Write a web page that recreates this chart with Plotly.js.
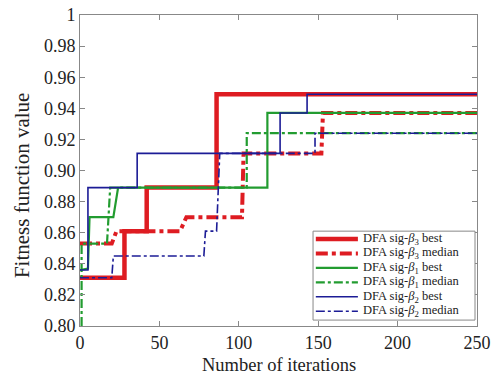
<!DOCTYPE html>
<html>
<head>
<meta charset="utf-8">
<script src="https://cdn.plot.ly/plotly-3.0.1.min.js"></script>
<style>html,body{margin:0;padding:0;background:#fff;}#chart{width:495px;height:374px;}</style>
</head>
<body>
<div id="chart"></div>
<script>
// Iteration / fitness points (step curves)
const redBestX = [0, 28, 28, 42, 42, 86, 86, 250];
const redBestY = [0.831, 0.831, 0.861, 0.861, 0.889, 0.889, 0.949, 0.949];
const redMedX = [0, 20, 23, 63, 67, 102, 103, 152, 153, 250];
const redMedY = [0.853, 0.853, 0.861, 0.861, 0.870, 0.870, 0.911, 0.911, 0.937, 0.937];
const greenBestX = [0, 5, 6, 21, 24, 118, 118, 250];
const greenBestY = [0.836, 0.837, 0.870, 0.870, 0.889, 0.889, 0.937, 0.937];
const greenMedX = [1, 1, 17, 19, 105, 105, 250];
const greenMedY = [0.800, 0.853, 0.853, 0.889, 0.889, 0.924, 0.924];
const blueBestX = [0, 5, 5, 36, 36, 126, 126, 143, 143, 250];
const blueBestY = [0.836, 0.836, 0.889, 0.889, 0.911, 0.911, 0.937, 0.937, 0.949, 0.949];
const blueMedX = [0, 20, 21, 78, 79, 86, 88, 148, 148, 250];
const blueMedY = [0.831, 0.831, 0.845, 0.845, 0.861, 0.861, 0.911, 0.911, 0.924, 0.924];

const seriesNames = [
  'DFA sig-<i>β</i><sub>3</sub> best',
  'DFA sig-<i>β</i><sub>3</sub> median',
  'DFA sig-<i>β</i><sub>1</sub> best',
  'DFA sig-<i>β</i><sub>1</sub> median',
  'DFA sig-<i>β</i><sub>2</sub> best',
  'DFA sig-<i>β</i><sub>2</sub> median'
];
const xTicks = [0, 50, 100, 150, 200, 250];
const yTicks = [0.80, 0.82, 0.84, 0.86, 0.88, 0.90, 0.92, 0.94, 0.96, 0.98, 1.00];
const yTickText = ['0.80', '0.82', '0.84', '0.86', '0.88', '0.90', '0.92', '0.94', '0.96', '0.98', '1'];
const xTitle = 'Number of iterations';
const yTitle = 'Fitness function value';

const RED = 'rgb(222,28,34)', GREEN = 'rgb(34,156,48)', BLUE = 'rgb(28,28,150)';
const xs = [redBestX, redMedX, greenBestX, greenMedX, blueBestX, blueMedX];
const ys = [redBestY, redMedY, greenBestY, greenMedY, blueBestY, blueMedY];
const styles = [
  {color: RED, width: 4.5, dash: 'solid'},
  {color: RED, width: 4, dash: 'dashdot'},
  {color: GREEN, width: 2.2, dash: 'solid'},
  {color: GREEN, width: 2.2, dash: 'dashdot'},
  {color: BLUE, width: 1.6, dash: 'solid'},
  {color: BLUE, width: 1.6, dash: 'dashdot'}
];
const traces = xs.map((x, i) => ({
  x: x, y: ys[i], type: 'scatter', mode: 'lines', name: seriesNames[i],
  line: styles[i], showlegend: false
}));

const FONT = 'Liberation Serif, Times New Roman, serif';

// Hand-drawn legend box (paper coordinates), compact like the reference
const LX0 = 0.587, LX1 = 0.995, LY0 = 0.019, LY1 = 0.305;
const shapes = [{
  type: 'rect', xref: 'paper', yref: 'paper', x0: LX0, x1: LX1, y0: LY0, y1: LY1,
  line: {color: '#888', width: 1}, fillcolor: '#fff', layer: 'above'
}];
const annotations = [];
const rowTop = 0.280, rowStep = 0.0465;
seriesNames.forEach((name, i) => {
  const yy = rowTop - i * rowStep;
  shapes.push({
    type: 'line', xref: 'paper', yref: 'paper', x0: 0.594, x1: 0.700, y0: yy, y1: yy,
    line: {color: styles[i].color, width: styles[i].width, dash: styles[i].dash}, layer: 'above'
  });
  annotations.push({
    xref: 'paper', yref: 'paper', x: 0.707, y: yy, xanchor: 'left', yanchor: 'middle',
    text: name, showarrow: false, font: {family: FONT, size: 12.5, color: '#222'}
  });
});
annotations.push({
  xref: 'paper', yref: 'paper', x: 0.5, y: -0.125, xanchor: 'center', yanchor: 'middle',
  text: xTitle, showarrow: false, font: {family: FONT, size: 18.5, color: '#222'}
});
annotations.push({
  xref: 'paper', yref: 'paper', x: -0.146, y: 0.45, xanchor: 'center', yanchor: 'middle',
  text: yTitle, textangle: -90, showarrow: false, font: {family: FONT, size: 21, color: '#222'}
});

const layout = {
  width: 495, height: 374,
  margin: {l: 80, r: 18, t: 15, b: 48},
  paper_bgcolor: '#fff', plot_bgcolor: '#fff',
  font: {family: FONT, color: '#222', size: 18},
  showlegend: false,
  shapes: shapes,
  annotations: annotations,
  xaxis: {
    range: [0, 250], tickvals: xTicks, ticks: 'inside', ticklen: 5,
    tickcolor: '#888', showline: true, linecolor: '#888', linewidth: 1,
    mirror: 'ticks', showgrid: false, zeroline: false,
    tickfont: {family: FONT, size: 18, color: '#222'}
  },
  yaxis: {
    range: [0.80, 1.00], tickvals: yTicks, ticktext: yTickText, ticks: 'inside', ticklen: 5,
    tickcolor: '#888', showline: true, linecolor: '#888', linewidth: 1,
    mirror: 'ticks', showgrid: false, zeroline: false,
    tickfont: {family: FONT, size: 18, color: '#222'}
  }
};
Plotly.newPlot('chart', traces, layout, {displayModeBar: false, staticPlot: true});
</script>
</body>
</html>
